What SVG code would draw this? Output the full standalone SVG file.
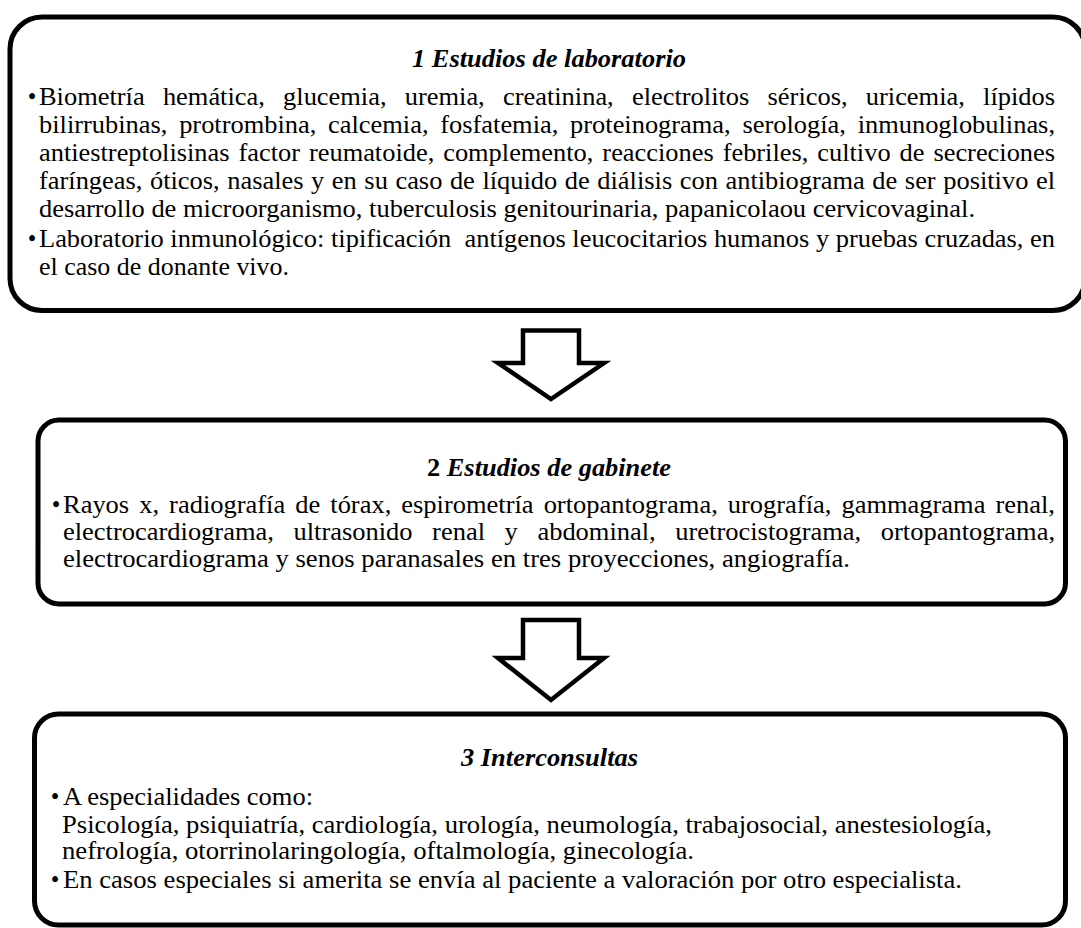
<svg xmlns="http://www.w3.org/2000/svg" width="1081" height="928" viewBox="0 0 1081 928">
<style>
.box{fill:#fff;stroke:#000;stroke-width:5}
.arrow{fill:#fff;stroke:#000;stroke-width:4.5;stroke-linejoin:miter;stroke-miterlimit:10}
.t{font-family:"Liberation Serif","Times New Roman",serif;font-size:24.5px;fill:#000}
.h{font-weight:bold;font-style:italic}
.b{text-anchor:middle}
</style>
<rect width="1081" height="928" fill="#fff"/>
<g id="connectors">
<path class="arrow" d="M523,330.5 H579 V363 H604 L551,399 L498,363 H523 Z"/>
<path class="arrow" d="M523,620 H579 V658 H604 L551,700 L498,658 H523 Z"/>
</g>
<g id="node1">
<rect class="box" x="10" y="17" width="1075" height="293.5" rx="32" ry="32"/>
<text class="t h" x="412" y="67" textLength="274" lengthAdjust="spacingAndGlyphs">1 Estudios de laboratorio</text>
<text class="t b" x="32" y="105">•</text>
<text class="t" x="39" y="105" word-spacing="10.8" textLength="1016" lengthAdjust="spacingAndGlyphs">Biometría hemática, glucemia, uremia, creatinina, electrolitos séricos, uricemia, lípidos</text>
<text class="t" x="39" y="133" word-spacing="4.8" textLength="1016" lengthAdjust="spacingAndGlyphs">bilirrubinas, protrombina, calcemia, fosfatemia, proteinograma, serología, inmunoglobulinas,</text>
<text class="t" x="39" y="161" word-spacing="2.2" textLength="1016" lengthAdjust="spacingAndGlyphs">antiestreptolisinas factor reumatoide, complemento, reacciones febriles, cultivo de secreciones</text>
<text class="t" x="39" y="189" word-spacing="0.9" textLength="1016" lengthAdjust="spacingAndGlyphs">faríngeas, óticos, nasales y en su caso de líquido de diálisis con antibiograma de ser positivo el</text>
<text class="t" x="39" y="217" textLength="936" lengthAdjust="spacingAndGlyphs">desarrollo de microorganismo, tuberculosis genitourinaria, papanicolaou cervicovaginal.</text>
<text class="t b" x="32" y="247">•</text>
<text class="t" x="39" y="247" xml:space="preserve" textLength="1016" lengthAdjust="spacingAndGlyphs">Laboratorio inmunológico: tipificación  antígenos leucocitarios humanos y pruebas cruzadas, en</text>
<text class="t" x="39" y="275" textLength="250" lengthAdjust="spacingAndGlyphs">el caso de donante vivo.</text>
</g>
<g id="node2">
<rect class="box" x="38" y="420" width="1027.5" height="184" rx="21" ry="21"/>
<text class="t h" x="427" y="476" textLength="244" lengthAdjust="spacingAndGlyphs"><tspan font-style="normal">2</tspan> Estudios de gabinete</text>
<text class="t b" x="56" y="513">•</text>
<text class="t" x="63" y="513" word-spacing="3.2" textLength="992" lengthAdjust="spacingAndGlyphs">Rayos x, radiografía de tórax, espirometría ortopantograma, urografía, gammagrama renal,</text>
<text class="t" x="63" y="540" word-spacing="12" textLength="992" lengthAdjust="spacingAndGlyphs">electrocardiograma, ultrasonido renal y abdominal, uretrocistograma, ortopantograma,</text>
<text class="t" x="63" y="567" textLength="787" lengthAdjust="spacingAndGlyphs">electrocardiograma y senos paranasales en tres proyecciones, angiografía.</text>
</g>
<g id="node3">
<rect class="box" x="34.5" y="714" width="1031" height="211" rx="24" ry="24"/>
<text class="t h" x="461" y="766" textLength="177" lengthAdjust="spacingAndGlyphs">3 Interconsultas</text>
<text class="t b" x="55" y="805">•</text>
<text class="t" x="63" y="805" textLength="250" lengthAdjust="spacingAndGlyphs">A especialidades como:</text>
<text class="t" x="62" y="833" textLength="930" lengthAdjust="spacingAndGlyphs">Psicología, psiquiatría, cardiología, urología, neumología, trabajosocial, anestesiología,</text>
<text class="t" x="62" y="859" textLength="632" lengthAdjust="spacingAndGlyphs">nefrología, otorrinolaringología, oftalmología, ginecología.</text>
<text class="t b" x="55" y="888">•</text>
<text class="t" x="63" y="888" textLength="899" lengthAdjust="spacingAndGlyphs">En casos especiales si amerita se envía al paciente a valoración por otro especialista.</text>
</g>
</svg>
